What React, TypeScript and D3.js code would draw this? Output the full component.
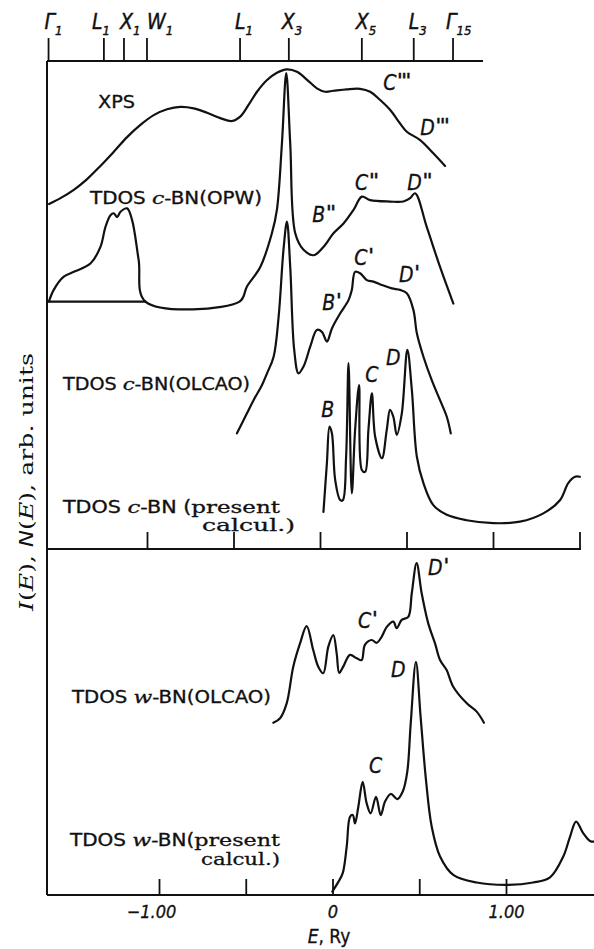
import * as d3 from 'd3';
import React, { useEffect, useRef } from 'react';

type Pt = [number, number]; // [E in Ry, intensity in arb. units]

// ---- upper panel: c-BN (E measured on the middle axis) ----
const xpsCurve: Pt[] = [
  [-1.569, 7.07], [-1.503, 7.19], [-1.426, 7.36], [-1.349, 7.58], [-1.272, 7.85],
  [-1.195, 8.14], [-1.118, 8.44], [-1.041, 8.69], [-0.964, 8.89], [-0.887, 9.01],
  [-0.81, 9.06], [-0.733, 9.03], [-0.656, 8.94], [-0.579, 8.83], [-0.512, 8.77],
  [-0.464, 8.86], [-0.416, 9.1], [-0.367, 9.37], [-0.309, 9.61], [-0.252, 9.76],
  [-0.194, 9.83], [-0.136, 9.78], [-0.079, 9.62], [-0.021, 9.44], [0.027, 9.37],
  [0.075, 9.39], [0.152, 9.42], [0.229, 9.43], [0.287, 9.37], [0.345, 9.2],
  [0.402, 9.0], [0.46, 8.72], [0.499, 8.55], [0.576, 8.38], [0.652, 8.11], [0.72, 7.85],
];

const opwCurve: Pt[] = [
  [-1.57, 5.07], [-1.542, 5.31], [-1.484, 5.58], [-1.426, 5.68], [-1.33, 5.85],
  [-1.272, 6.19], [-1.243, 6.6], [-1.214, 6.84], [-1.195, 6.88], [-1.176, 6.8],
  [-1.156, 6.91], [-1.118, 6.98], [-1.089, 6.74], [-1.051, 5.92], [-1.012, 5.07],
  [-0.468, 5.07], [-0.425, 5.38], [-0.348, 5.78], [-0.281, 6.47], [-0.252, 6.95],
  [-0.223, 8.31], [-0.198, 9.75], [-0.175, 8.31], [-0.146, 6.47], [-0.098, 6.13],
  [-0.04, 6.02], [0.017, 6.19], [0.075, 6.47], [0.133, 6.67], [0.191, 6.95],
  [0.239, 7.22], [0.287, 7.15], [0.402, 7.12], [0.479, 7.12], [0.518, 7.19],
  [0.547, 7.29], [0.614, 6.6], [0.691, 5.78], [0.768, 5.03],
];

const opwBase: Pt[] = [[-1.57, 5.07], [-1.012, 5.07]];

const olcaoCBN: Pt[] = [
  [-0.483, 2.37], [-0.425, 2.78], [-0.387, 3.05], [-0.338, 3.36], [-0.309, 3.6],
  [-0.271, 3.94], [-0.242, 4.76], [-0.214, 6.13], [-0.194, 6.71], [-0.175, 5.78],
  [-0.152, 4.08], [-0.127, 3.6], [-0.098, 3.74], [-0.059, 4.15], [-0.021, 4.49],
  [0.008, 4.45], [0.037, 4.25], [0.066, 4.52], [0.114, 4.83], [0.162, 5.1],
  [0.181, 5.31], [0.2, 5.68], [0.229, 5.65], [0.268, 5.51], [0.306, 5.48],
  [0.355, 5.41], [0.412, 5.34], [0.46, 5.31], [0.499, 5.24], [0.537, 4.9],
  [0.557, 4.42], [0.595, 3.94], [0.643, 3.46], [0.691, 3.05], [0.73, 2.71], [0.753, 2.37],
];

const presentCBN: Pt[] = [
  [0.017, 0.76], [0.037, 1.76], [0.052, 2.51], [0.066, 2.37], [0.085, 1.41],
  [0.114, 1.0], [0.129, 1.0], [0.148, 1.89], [0.162, 3.81], [0.181, 1.14],
  [0.2, 2.44], [0.223, 3.36], [0.239, 1.62], [0.258, 1.58], [0.277, 2.44],
  [0.297, 3.19], [0.316, 2.3], [0.355, 1.86], [0.383, 2.44], [0.402, 2.85],
  [0.421, 2.71], [0.441, 2.34], [0.47, 2.78], [0.502, 4.08], [0.528, 3.26],
  [0.557, 1.89], [0.595, 1.35], [0.652, 0.9], [0.73, 0.7], [0.845, 0.59],
  [0.999, 0.53], [1.153, 0.56], [1.288, 0.73], [1.384, 1.0], [1.432, 1.35],
  [1.471, 1.48], [1.499, 1.48],
];

// ---- lower panel: w-BN ----
const olcaoWBN: Pt[] = [
  [-0.344, 4.98], [-0.305, 5.11], [-0.267, 5.54], [-0.229, 6.6], [-0.19, 7.27],
  [-0.152, 7.77], [-0.114, 7.08], [-0.085, 6.6], [-0.056, 6.41], [-0.027, 7.18],
  [0.002, 7.51], [0.021, 6.99], [0.036, 6.42], [0.059, 6.6], [0.098, 6.94],
  [0.137, 6.84], [0.165, 6.79], [0.184, 7.23], [0.223, 7.37], [0.252, 7.29],
  [0.281, 7.47], [0.31, 7.75], [0.348, 7.9], [0.367, 7.71], [0.396, 7.95],
  [0.434, 8.04], [0.454, 8.72], [0.482, 9.59], [0.511, 8.72], [0.549, 7.85],
  [0.588, 7.27], [0.617, 6.79], [0.655, 6.5], [0.693, 6.02], [0.771, 5.54],
  [0.828, 5.3], [0.87, 4.98],
];

const presentWBN: Pt[] = [
  [-0.004, 0.1], [0.031, 0.38], [0.056, 0.63], [0.079, 1.4], [0.098, 2.26],
  [0.114, 2.31], [0.127, 2.07], [0.146, 2.55], [0.171, 3.27], [0.194, 2.65],
  [0.217, 2.36], [0.248, 2.84], [0.275, 2.31], [0.3, 2.7], [0.333, 2.92],
  [0.371, 2.77], [0.402, 2.99], [0.428, 3.56], [0.448, 4.96], [0.478, 6.74],
  [0.505, 5.15], [0.536, 3.32], [0.569, 1.97], [0.617, 1.11], [0.693, 0.58],
  [0.828, 0.36], [1.001, 0.29], [1.154, 0.36], [1.251, 0.51], [1.327, 1.11],
  [1.366, 1.68], [1.401, 2.12], [1.443, 1.78], [1.481, 1.56], [1.504, 1.54],
];

// symmetry points on the top axis (upper-panel energies)
const symNames = ['Γ', 'L', 'X', 'W', 'L', 'X', 'X', 'L', 'Γ'];
const symSubs = ['1', '1', '1', '1', '1', '3', '5', '3', '15'];
const symE = [-1.572, -1.252, -1.136, -1.003, -0.465, -0.183, 0.239, 0.539, 0.766];

const upperTicks = [-1, -0.5, 0, 0.5, 1, 1.5];
const lowerTicks = [-1, -0.5, 0, 0.5, 1];
const lowerTickLabels = ['−1.00', '', '0', '', '1.00'];

// peak letters: [E, I, letter, number of primes]
const upperPeaks: [number, number, string, number][] = [
  [0.362, 9.41, 'C', 3], [0.576, 8.48, 'D', 3],
  [-0.048, 6.71, 'B', 2], [0.2, 7.36, 'C', 2], [0.501, 7.36, 'D', 2],
  [0.01, 4.9, 'B', 1], [0.195, 5.82, 'C', 1], [0.454, 5.48, 'D', 1],
  [0.004, 2.7, 'B', 0], [0.258, 3.43, 'C', 0], [0.379, 3.77, 'D', 0],
];
const lowerPeaks: [number, number, string, number][] = [
  [0.548, 9.25, 'D', 1], [0.144, 7.72, 'C', 1],
  [0.334, 6.3, 'D', 0], [0.207, 3.53, 'C', 0],
];

const W = 594;
const H = 949;
const SANS = "'DejaVu Sans Condensed', 'Liberation Sans Narrow', 'DejaVu Sans', sans-serif";
const SERIF = "'DejaVu Serif', 'Liberation Serif', serif";

const App: React.FC = () => {
  const svgRef = useRef<SVGSVGElement>(null);

  useEffect(() => {
    if (!svgRef.current) return;
    const svg = d3.select(svgRef.current);
    svg.selectAll('*').remove();

    const left = 47;
    const topY = 61;
    const midY = 549;
    const botY = 895;

    const xU = d3.scaleLinear().domain([-1, 1.5]).range([147.5, 580]);
    const xL = d3.scaleLinear().domain([-1, 1]).range([159.5, 506.5]);
    const yU = d3.scaleLinear().domain([0, 10]).range([midY, 61]);
    const yL = d3.scaleLinear().domain([0, 10]).range([botY, midY]);

    svg.append('rect').attr('width', W).attr('height', H).attr('fill', '#fff');

    const ink = '#111';
    const axisW = 2;

    const line2 = (x1: number, y1: number, x2: number, y2: number, w = axisW) =>
      svg.append('line').attr('x1', x1).attr('y1', y1).attr('x2', x2).attr('y2', y2)
        .attr('stroke', ink).attr('stroke-width', w);

    line2(left, topY, left, botY);
    line2(left, topY, 483, topY);
    line2(left, midY, xU(1.5) + 1, midY);
    line2(left, botY, W, botY);

    // top axis: symmetry points, label centred a little left of the tick
    const symDx = [-4, -12, -4, 0, -5, -7, -6, -5, -7];
    symE.forEach((e, i) => {
      const x = xU(e);
      line2(x, topY, x, topY - 23, 1.8);
      const t = svg.append('text').attr('x', x + symDx[i]).attr('y', 29)
        .attr('font-family', SANS).attr('font-style', 'italic')
        .attr('font-size', 21).attr('fill', ink)
        .attr('stroke', ink).attr('stroke-width', 0.4);
      t.append('tspan').text(symNames[i]);
      t.append('tspan').attr('font-size', 13).attr('dy', 6).text(symSubs[i]);
    });

    // middle axis ticks
    upperTicks.forEach(e => line2(xU(e), midY, xU(e), midY - 17, 1.8));

    // bottom axis ticks + labels
    lowerTicks.forEach((e, i) => {
      line2(xL(e), botY, xL(e), botY - 16, 1.8);
      if (lowerTickLabels[i]) {
        svg.append('text').attr('x', xL(e) - (e < 0 ? 8 : 0)).attr('y', 918)
          .attr('text-anchor', 'middle').attr('font-family', SANS)
          .attr('font-style', 'italic').attr('font-size', 18).attr('fill', ink)
          .attr('stroke', ink).attr('stroke-width', 0.3)
          .text(lowerTickLabels[i]);
      }
    });

    // axis title E, Ry
    const et = svg.append('text').attr('x', 329).attr('y', 943).attr('text-anchor', 'middle')
      .attr('font-family', SANS).attr('font-size', 19).attr('fill', ink)
      .attr('stroke', ink).attr('stroke-width', 0.3);
    et.append('tspan').attr('font-style', 'italic').text('E');
    et.append('tspan').text(', Ry');

    // y title
    const yt = svg.append('text').attr('transform', 'translate(33,482) rotate(-90)')
      .attr('text-anchor', 'middle').attr('font-family', SERIF).attr('font-size', 19)
      .attr('fill', ink).attr('textLength', 258).attr('lengthAdjust', 'spacingAndGlyphs');
    yt.append('tspan').attr('font-style', 'italic').text('I');
    yt.append('tspan').text('(');
    yt.append('tspan').attr('font-style', 'italic').text('E');
    yt.append('tspan').text('), ');
    yt.append('tspan').attr('font-style', 'italic').attr('font-family', SANS).text('N');
    yt.append('tspan').text('(');
    yt.append('tspan').attr('font-style', 'italic').text('E');
    yt.append('tspan').text('), arb. units');

    // curves
    const upperLine = d3.line<Pt>().x(d => xU(d[0])).y(d => yU(d[1])).curve(d3.curveCatmullRom.alpha(0.5));
    const lowerLine = d3.line<Pt>().x(d => xL(d[0])).y(d => yL(d[1])).curve(d3.curveCatmullRom.alpha(0.5));
    const drawCurve = (data: Pt[], gen: d3.Line<Pt>) =>
      svg.append('path').datum(data).attr('fill', 'none').attr('stroke', ink)
        .attr('stroke-width', 2.2).attr('stroke-linejoin', 'round').attr('stroke-linecap', 'round')
        .attr('d', gen);

    drawCurve(xpsCurve, upperLine);
    drawCurve(opwCurve, upperLine);
    drawCurve(opwBase, upperLine);
    drawCurve(olcaoCBN, upperLine);
    drawCurve(presentCBN, upperLine);
    drawCurve(olcaoWBN, lowerLine);
    drawCurve(presentWBN, lowerLine);

    // peak letters with heavy prime strokes
    const peak = (x: number, y: number, letter: string, primes: number) => {
      const t = svg.append('text').attr('x', x).attr('y', y)
        .attr('font-family', SANS).attr('font-style', 'italic')
        .attr('font-size', 21).attr('fill', ink)
        .attr('stroke', ink).attr('stroke-width', 0.3);
      t.append('tspan').text(letter);
      if (primes > 0) {
        t.append('tspan').attr('font-size', 19).attr('dy', -3).attr('dx', 1)
          .attr('font-weight', 'bold').attr('letter-spacing', -1)
          .text("'".repeat(primes));
      }
    };
    upperPeaks.forEach(p => peak(xU(p[0]), yU(p[1]), p[2], p[3]));
    lowerPeaks.forEach(p => peak(xL(p[0]), yL(p[1]), p[2], p[3]));

    // curve captions
    const caption = (x: number, y: number, len: number, parts: [string, string][]) => {
      const t = svg.append('text').attr('x', x).attr('y', y).attr('font-size', 17)
        .attr('fill', ink).attr('stroke', ink).attr('stroke-width', 0.3)
        .attr('textLength', len).attr('lengthAdjust', 'spacingAndGlyphs');
      parts.forEach(([txt, kind]) => {
        const s = t.append('tspan').text(txt);
        if (kind === 'i') s.attr('font-family', SERIF).attr('font-style', 'italic');
        else if (kind === 'r') s.attr('font-family', SERIF);
        else s.attr('font-family', SANS);
      });
    };
    caption(98, 108, 37, [['XPS', 's']]);
    caption(90, 203.5, 172, [['TDOS ', 's'], ['c', 'i'], ['-BN(OPW)', 's']]);
    caption(63, 390, 187, [['TDOS ', 's'], ['c', 'i'], ['-BN(OLCAO)', 's']]);
    caption(63, 513, 217, [['TDOS ', 's'], ['c', 'i'], ['-BN (', 's'], ['present', 'r']]);
    caption(202, 531, 93, [['calcul.)', 'r']]);
    caption(72, 703, 199, [['TDOS ', 's'], ['w', 'i'], ['-BN(OLCAO)', 's']]);
    caption(70, 846, 210, [['TDOS ', 's'], ['w', 'i'], ['-BN(', 's'], ['present', 'r']]);
    caption(201, 865, 79, [['calcul.)', 'r']]);
  }, []);

  return (
    <svg ref={svgRef} width={W} height={H}
      style={{ position: 'absolute', left: 0, top: 0, background: '#fff' }} />
  );
};

export default App;
